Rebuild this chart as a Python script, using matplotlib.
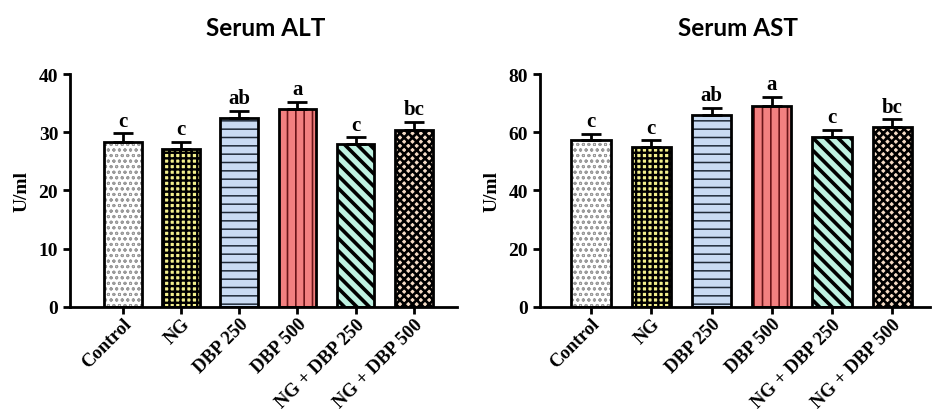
import matplotlib
matplotlib.use("Agg")
import matplotlib.pyplot as plt
import matplotlib.hatch as mhatch
from matplotlib.path import Path
import numpy as np

categories = ["Control", "NG", "DBP 250", "DBP 500", "NG + DBP 250", "NG + DBP 500"]
alt_mean = [28.4, 27.1, 32.4, 34.0, 27.9, 30.4]
alt_err = [1.4, 1.2, 1.3, 1.2, 1.2, 1.4]
ast_mean = [57.2, 55.0, 65.9, 68.9, 58.5, 61.8]
ast_err = [2.1, 2.2, 2.6, 3.3, 2.2, 2.6]
letters = ["c", "c", "ab", "a", "c", "bc"]
alt_ticks = [0, 10, 20, 30, 40]
ast_ticks = [0, 20, 40, 60, 80]

fills = ["white", "#f3f08c", "#c9dbf3", "#f28080", "#bff2e2", "#f5dcc6"]
hatches = ["ooo", "+++", "--", "||", "\\", "xxxx"]
hcolors = ["#9a9a9a", "black", "#1f2a38", "#6a1418", "black", "black"]
hlws = [0.7, 1.7, 1.1, 1.2, 2.6, 1.9]


# backslash hatch with 16 lines per unit for a single '\'
class _NW(mhatch.HatchPatternBase):
    def __init__(self, hatch, density):
        self.num_lines = int(hatch.count('\\') * 16 +
                             (hatch.count('x') + hatch.count('X')) * density)
        self.num_vertices = (self.num_lines + 1) * 2 if self.num_lines else 0

    def set_vertices_and_codes(self, vertices, codes):
        steps = np.linspace(-0.5, 0.5, self.num_lines + 1)
        vertices[0::2, 0] = 0.0 + steps
        vertices[0::2, 1] = 1.0 + steps
        vertices[1::2, 0] = 1.0 + steps
        vertices[1::2, 1] = 0.0 + steps
        codes[0::2] = Path.MOVETO
        codes[1::2] = Path.LINETO


mhatch._hatch_types = [_NW if c is mhatch.SouthEastHatch else c
                       for c in mhatch._hatch_types]

serif = ["Liberation Serif", "DejaVu Serif"]

fig = plt.figure(figsize=(9.34, 4.10), dpi=100)


def panel(rect, xlim, means, errs, ticks, title, title_x):
    ax = fig.add_axes(rect)
    x = np.arange(len(categories))
    for i in range(len(categories)):
        b = ax.bar(x[i], means[i], width=0.65, color=fills[i], hatch=hatches[i],
                   edgecolor=hcolors[i], linewidth=0, zorder=2)
        for p in b:
            try:
                p.set_hatch_linewidth(hlws[i])
            except AttributeError:
                pass
        ax.bar(x[i], means[i], width=0.65, fill=False, edgecolor="black",
               linewidth=2.0, zorder=3)
        ax.errorbar(x[i], means[i], yerr=[[0], [errs[i]]], fmt="none",
                    ecolor="black", elinewidth=2, capsize=7, capthick=2, zorder=4)
        ax.text(x[i], means[i] + errs[i] + ticks[-1] * 0.012, letters[i],
                ha="center", va="bottom", fontsize=15, fontweight="bold",
                family=serif)
    ax.set_xlim(*xlim)
    ax.set_ylim(ticks[0], ticks[-1])
    ax.set_yticks(ticks)
    ax.set_yticklabels([str(t) for t in ticks], fontsize=14, fontweight="bold",
                       family=serif)
    ax.set_xticks(x)
    ax.set_xticklabels(categories, rotation=45, ha="right", rotation_mode="anchor",
                       fontsize=13.5, fontweight="bold", family=serif)
    ax.set_ylabel("U/ml", fontsize=14, fontweight="bold", family=serif, labelpad=6)
    for s in ["top", "right"]:
        ax.spines[s].set_visible(False)
    for s in ["left", "bottom"]:
        ax.spines[s].set_linewidth(2)
    ax.tick_params(axis="both", width=2, length=5, direction="out")
    ax.tick_params(axis="x", pad=1)
    fig.text(title_x, 0.93, title, ha="center", va="center", fontsize=17.5,
             fontweight="bold", family=["Lato", "DejaVu Sans"])
    return ax


panel([0.075, 0.249, 0.414, 0.568], (-0.91, 5.74), alt_mean, alt_err, alt_ticks,
      "Serum ALT", 0.284)
panel([0.578, 0.249, 0.418, 0.568], (-0.85, 5.63), ast_mean, ast_err, ast_ticks,
      "Serum AST", 0.790)

fig.savefig("out.png", dpi=100)
